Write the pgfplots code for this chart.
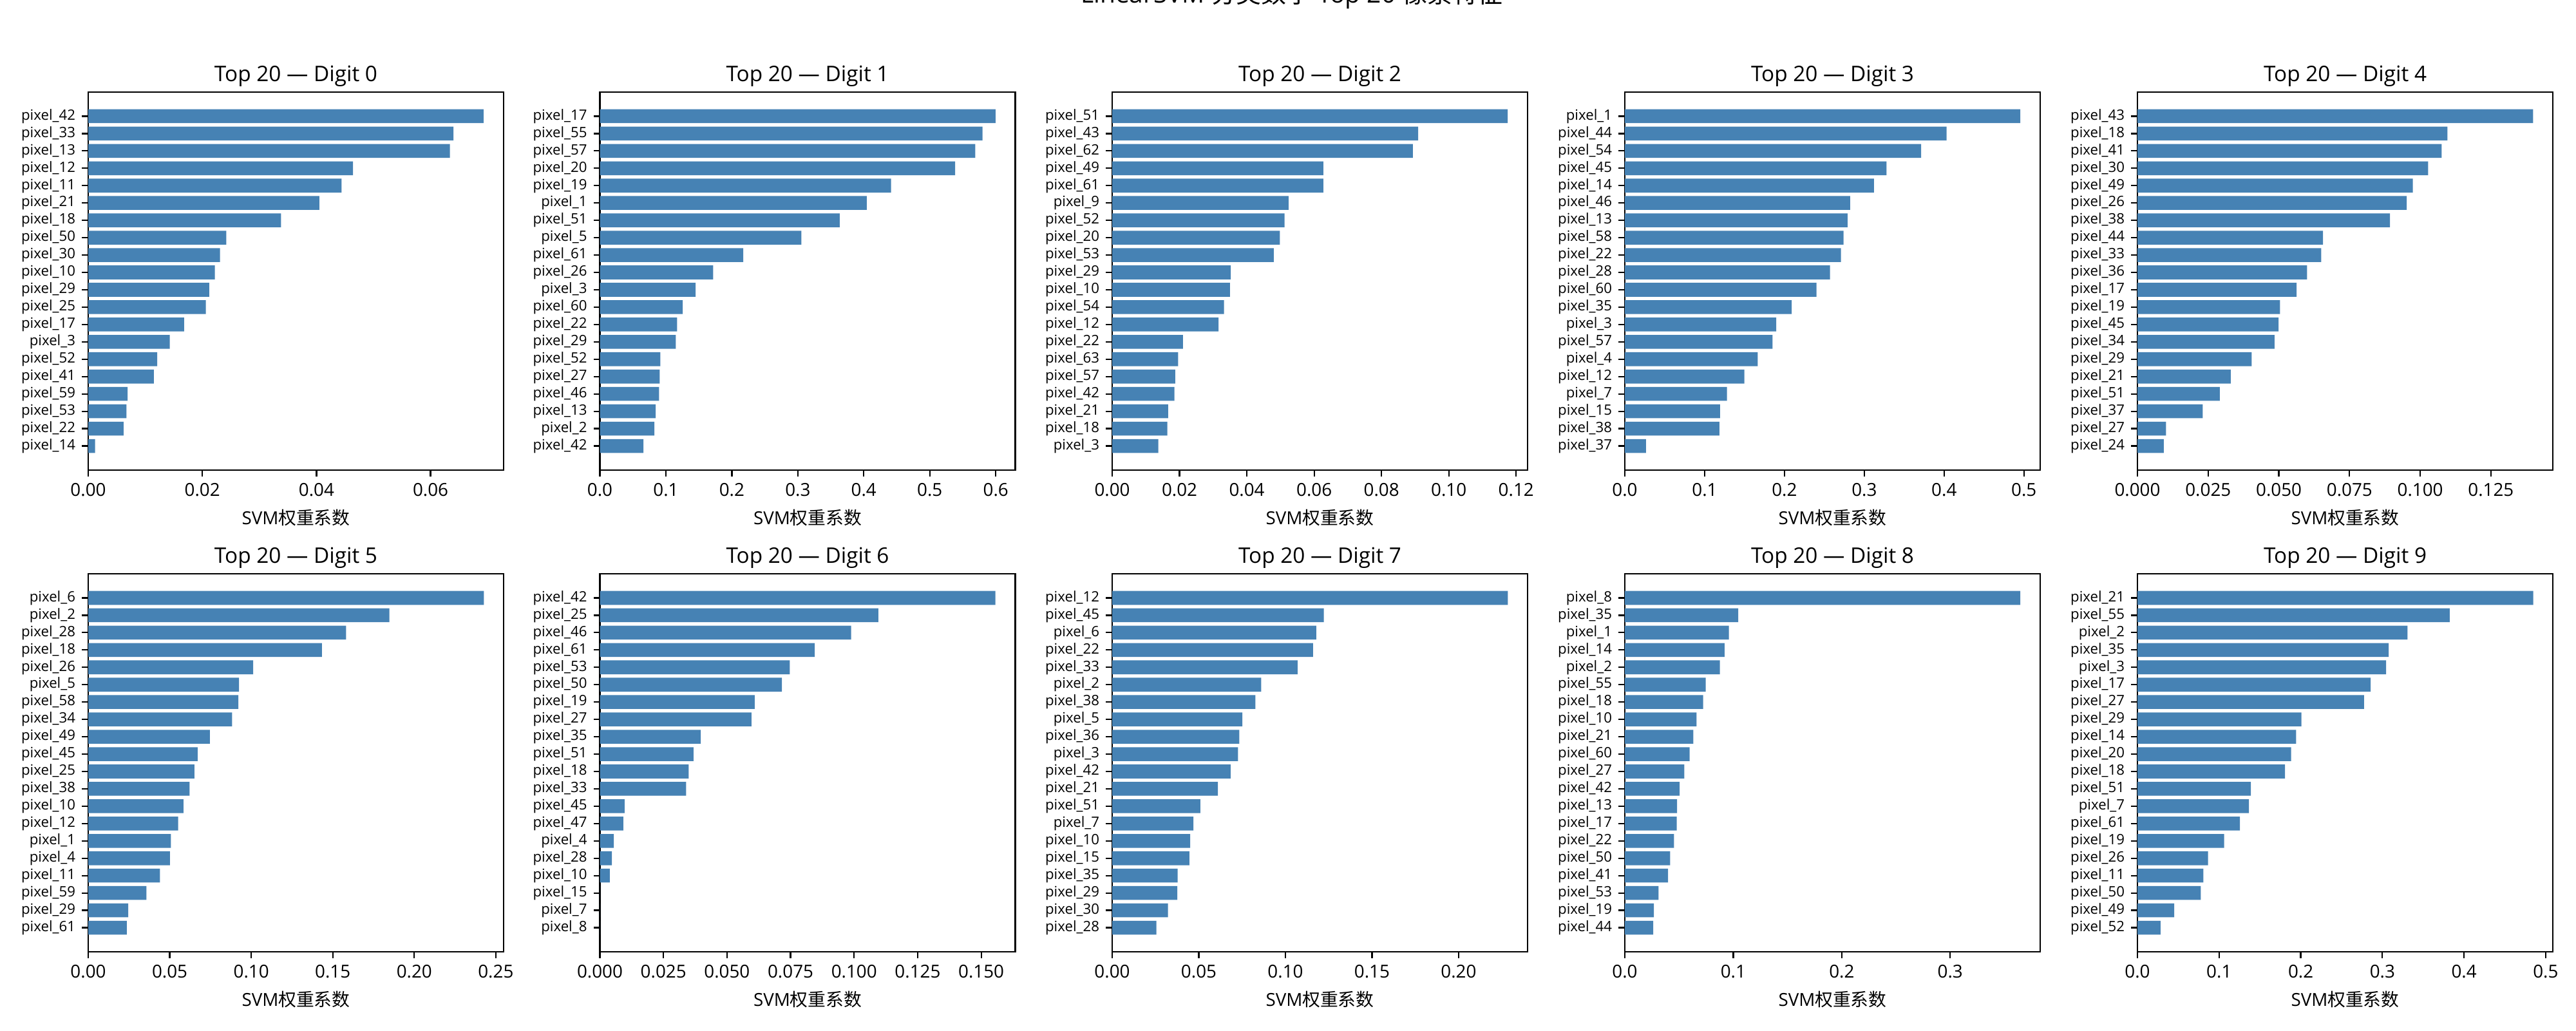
\documentclass[border=0pt]{standalone}
\usepackage{fontspec}
\setmainfont{Open Sans}
\newfontfamily\cjk{Noto Sans CJK SC}
\usepackage{pgfplots}
\pgfplotsset{compat=1.18}
\definecolor{steelblue}{HTML}{4682B4}
\pgfplotsset{svmbar/.style={
  width=232.2pt, height=211.32pt, scale only axis, anchor=south west,
  xbar, bar width=0.8, y dir=reverse, ymin=-1.39, ymax=20.39,
  xmin=0, ytick={0,...,19}, tick align=outside, xtick pos=left, ytick pos=left,
  scaled x ticks=false,
  major tick length=3.5pt, every tick/.style={black, line width=0.8pt},
  axis line style={line width=0.8pt},
  yticklabel style={font=\fontsize{8}{9}\selectfont, inner sep=0pt, xshift=-3.5pt},
  xticklabel style={font=\fontsize{10}{12}\selectfont, inner sep=0pt, yshift=-3.5pt},
  title style={font=\fontsize{12}{14}\selectfont, anchor=base, yshift=0pt, inner sep=0pt},
  xlabel={SVM{\cjk 权重系数}}, xlabel style={font=\fontsize{10}{12}\selectfont, yshift=-4pt},
}}
\begin{document}
\begin{tikzpicture}
% ---------- row 1 ----------
\begin{axis}[svmbar, at={(49.32pt,313.2pt)}, title={Top 20 — Digit 0}, xmax=0.0728,
  xtick={0,0.02,0.04,0.06}, xticklabels={0.00,0.02,0.04,0.06},
  yticklabels={pixel\_42,pixel\_33,pixel\_13,pixel\_12,pixel\_11,pixel\_21,pixel\_18,pixel\_50,pixel\_30,pixel\_10,pixel\_29,pixel\_25,pixel\_17,pixel\_3,pixel\_52,pixel\_41,pixel\_59,pixel\_53,pixel\_22,pixel\_14}]
\addplot[fill=steelblue, draw=none] coordinates {(0.0693,0) (0.0640,1) (0.0634,2) (0.0464,3) (0.0444,4) (0.0405,5) (0.0338,6) (0.0242,7) (0.0231,8) (0.0222,9) (0.0212,10) (0.0206,11) (0.0168,12) (0.0143,13) (0.0121,14) (0.0115,15) (0.0069,16) (0.0067,17) (0.0062,18) (0.0012,19)};
\end{axis}
\begin{axis}[svmbar, at={(335.34pt,313.2pt)}, title={Top 20 — Digit 1}, xmax=0.6296,
  xtick={0,0.1,0.2,0.3,0.4,0.5,0.6}, xticklabels={0.0,0.1,0.2,0.3,0.4,0.5,0.6},
  yticklabels={pixel\_17,pixel\_55,pixel\_57,pixel\_20,pixel\_19,pixel\_1,pixel\_51,pixel\_5,pixel\_61,pixel\_26,pixel\_3,pixel\_60,pixel\_22,pixel\_29,pixel\_52,pixel\_27,pixel\_46,pixel\_13,pixel\_2,pixel\_42}]
\addplot[fill=steelblue, draw=none] coordinates {(0.5996,0) (0.580,1) (0.569,2) (0.5385,3) (0.4414,4) (0.4044,5) (0.3634,6) (0.3053,7) (0.2172,8) (0.1717,9) (0.1451,10) (0.1256,11) (0.1171,12) (0.1151,13) (0.0916,14) (0.0906,15) (0.0896,16) (0.0846,17) (0.0826,18) (0.0661,19)};
\end{axis}
\begin{axis}[svmbar, at={(621.72pt,313.2pt)}, title={Top 20 — Digit 2}, xmax=0.1234,
  xtick={0,0.02,0.04,0.06,0.08,0.10,0.12}, xticklabels={0.00,0.02,0.04,0.06,0.08,0.10,0.12},
  yticklabels={pixel\_51,pixel\_43,pixel\_62,pixel\_49,pixel\_61,pixel\_9,pixel\_52,pixel\_20,pixel\_53,pixel\_29,pixel\_10,pixel\_54,pixel\_12,pixel\_22,pixel\_63,pixel\_57,pixel\_42,pixel\_21,pixel\_18,pixel\_3}]
\addplot[fill=steelblue, draw=none] coordinates {(0.1175,0) (0.0909,1) (0.0893,2) (0.0627,3) (0.0627,4) (0.0524,5) (0.0512,6) (0.0498,7) (0.0480,8) (0.0352,9) (0.0350,10) (0.0332,11) (0.0316,12) (0.0210,13) (0.0196,14) (0.0187,15) (0.0185,16) (0.0166,17) (0.0164,18) (0.0137,19)};
\end{axis}
\begin{axis}[svmbar, at={(908.28pt,313.2pt)}, title={Top 20 — Digit 3}, xmax=0.5204,
  xtick={0,0.1,0.2,0.3,0.4,0.5}, xticklabels={0.0,0.1,0.2,0.3,0.4,0.5},
  yticklabels={pixel\_1,pixel\_44,pixel\_54,pixel\_45,pixel\_14,pixel\_46,pixel\_13,pixel\_58,pixel\_22,pixel\_28,pixel\_60,pixel\_35,pixel\_3,pixel\_57,pixel\_4,pixel\_12,pixel\_7,pixel\_15,pixel\_38,pixel\_37}]
\addplot[fill=steelblue, draw=none] coordinates {(0.4954,0) (0.4031,1) (0.3713,2) (0.3278,3) (0.3121,4) (0.2823,5) (0.2790,6) (0.2740,7) (0.2707,8) (0.2570,9) (0.2401,10) (0.2090,11) (0.1896,12) (0.1850,13) (0.1664,14) (0.1498,15) (0.1279,16) (0.1192,17) (0.1184,18) (0.0265,19)};
\end{axis}
\begin{axis}[svmbar, at={(1194.84pt,313.2pt)}, title={Top 20 — Digit 4}, xmax=0.1469,
  xtick={0,0.025,0.05,0.075,0.1,0.125}, xticklabels={0.000,0.025,0.050,0.075,0.100,0.125},
  yticklabels={pixel\_43,pixel\_18,pixel\_41,pixel\_30,pixel\_49,pixel\_26,pixel\_38,pixel\_44,pixel\_33,pixel\_36,pixel\_17,pixel\_19,pixel\_45,pixel\_34,pixel\_29,pixel\_21,pixel\_51,pixel\_37,pixel\_27,pixel\_24}]
\addplot[fill=steelblue, draw=none] coordinates {(0.1399,0) (0.1096,1) (0.1076,2) (0.1028,3) (0.0974,4) (0.0952,5) (0.0893,6) (0.0656,7) (0.0650,8) (0.0600,9) (0.0563,10) (0.0504,11) (0.0499,12) (0.0485,13) (0.0404,14) (0.0330,15) (0.0291,16) (0.0231,17) (0.0101,18) (0.0093,19)};
\end{axis}
% ---------- row 2 ----------
\begin{axis}[svmbar, at={(49.32pt,43.92pt)}, title={Top 20 — Digit 5}, xmax=0.2548,
  xtick={0,0.05,0.1,0.15,0.2,0.25}, xticklabels={0.00,0.05,0.10,0.15,0.20,0.25},
  yticklabels={pixel\_6,pixel\_2,pixel\_28,pixel\_18,pixel\_26,pixel\_5,pixel\_58,pixel\_34,pixel\_49,pixel\_45,pixel\_25,pixel\_38,pixel\_10,pixel\_12,pixel\_1,pixel\_4,pixel\_11,pixel\_59,pixel\_29,pixel\_61}]
\addplot[fill=steelblue, draw=none] coordinates {(0.2427,0) (0.1847,1) (0.1582,2) (0.1433,3) (0.1012,4) (0.0925,5) (0.0921,6) (0.0882,7) (0.0746,8) (0.0671,9) (0.0651,10) (0.0622,11) (0.0584,12) (0.0552,13) (0.0507,14) (0.0501,15) (0.0440,16) (0.0357,17) (0.0245,18) (0.0237,19)};
\end{axis}
\begin{axis}[svmbar, at={(335.34pt,43.92pt)}, title={Top 20 — Digit 6}, xmax=0.1634,
  xtick={0,0.025,0.05,0.075,0.1,0.125,0.15}, xticklabels={0.000,0.025,0.050,0.075,0.100,0.125,0.150},
  yticklabels={pixel\_42,pixel\_25,pixel\_46,pixel\_61,pixel\_53,pixel\_50,pixel\_19,pixel\_27,pixel\_35,pixel\_51,pixel\_18,pixel\_33,pixel\_45,pixel\_47,pixel\_4,pixel\_28,pixel\_10,pixel\_15,pixel\_7,pixel\_8}]
\addplot[fill=steelblue, draw=none] coordinates {(0.1556,0) (0.1095,1) (0.0988,2) (0.0845,3) (0.0747,4) (0.0716,5) (0.0609,6) (0.0596,7) (0.0397,8) (0.0368,9) (0.0349,10) (0.0339,11) (0.0097,12) (0.0092,13) (0.0055,14) (0.0047,15) (0.0039,16) (0,17) (0,18) (0,19)};
\end{axis}
\begin{axis}[svmbar, at={(621.72pt,43.92pt)}, title={Top 20 — Digit 7}, xmax=0.2398,
  xtick={0,0.05,0.1,0.15,0.2}, xticklabels={0.00,0.05,0.10,0.15,0.20},
  yticklabels={pixel\_12,pixel\_45,pixel\_6,pixel\_22,pixel\_33,pixel\_2,pixel\_38,pixel\_5,pixel\_36,pixel\_3,pixel\_42,pixel\_21,pixel\_51,pixel\_7,pixel\_10,pixel\_15,pixel\_35,pixel\_29,pixel\_30,pixel\_28}]
\addplot[fill=steelblue, draw=none] coordinates {(0.2284,0) (0.1222,1) (0.1178,2) (0.1159,3) (0.1070,4) (0.0860,5) (0.0827,6) (0.0751,7) (0.0734,8) (0.0726,9) (0.0684,10) (0.0610,11) (0.0509,12) (0.0469,13) (0.0450,14) (0.0446,15) (0.0378,16) (0.0376,17) (0.0322,18) (0.0255,19)};
\end{axis}
\begin{axis}[svmbar, at={(908.28pt,43.92pt)}, title={Top 20 — Digit 8}, xmax=0.3830,
  xtick={0,0.1,0.2,0.3}, xticklabels={0.0,0.1,0.2,0.3},
  yticklabels={pixel\_8,pixel\_35,pixel\_1,pixel\_14,pixel\_2,pixel\_55,pixel\_18,pixel\_10,pixel\_21,pixel\_60,pixel\_27,pixel\_42,pixel\_13,pixel\_17,pixel\_22,pixel\_50,pixel\_41,pixel\_53,pixel\_19,pixel\_44}]
\addplot[fill=steelblue, draw=none] coordinates {(0.3646,0) (0.1045,1) (0.0959,2) (0.0920,3) (0.0877,4) (0.0746,5) (0.0722,6) (0.0661,7) (0.0631,8) (0.0597,9) (0.0548,10) (0.0506,11) (0.0481,12) (0.0478,13) (0.0454,14) (0.0417,15) (0.0399,16) (0.0311,17) (0.0268,18) (0.0262,19)};
\end{axis}
\begin{axis}[svmbar, at={(1194.84pt,43.92pt)}, title={Top 20 — Digit 9}, xmax=0.5088,
  xtick={0,0.1,0.2,0.3,0.4,0.5}, xticklabels={0.0,0.1,0.2,0.3,0.4,0.5},
  yticklabels={pixel\_21,pixel\_55,pixel\_2,pixel\_35,pixel\_3,pixel\_17,pixel\_27,pixel\_29,pixel\_14,pixel\_20,pixel\_18,pixel\_51,pixel\_7,pixel\_61,pixel\_19,pixel\_26,pixel\_11,pixel\_50,pixel\_49,pixel\_52}]
\addplot[fill=steelblue, draw=none] coordinates {(0.4848,0) (0.3824,1) (0.3307,2) (0.3078,3) (0.3045,4) (0.2857,5) (0.2775,6) (0.2008,7) (0.1943,8) (0.1881,9) (0.1807,10) (0.1389,11) (0.1365,12) (0.1254,13) (0.1061,14) (0.0865,15) (0.0807,16) (0.0775,17) (0.0451,18) (0.0283,19)};
\end{axis}
% suptitle, mostly cut off by the page top as in the reference
\node[anchor=base, font=\fontsize{14}{16}\selectfont, inner sep=0pt] at (722pt,574.5pt) {LinearSVM {\cjk 分类数字} Top 20 {\cjk 像素特征}};
\pgfresetboundingbox
\path[use as bounding box] (0,0) rectangle (1440pt,576pt);
\end{tikzpicture}
\end{document}
